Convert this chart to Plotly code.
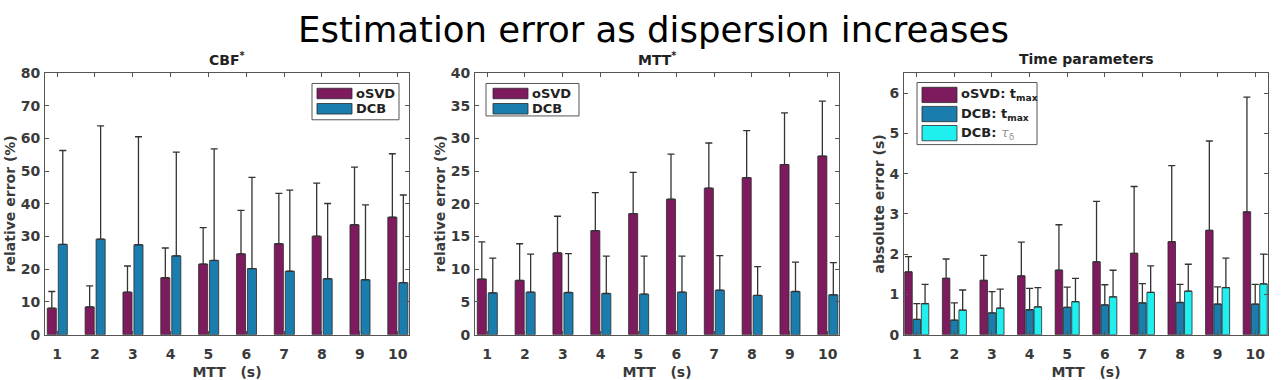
import plotly.graph_objects as go

W, H = 1285, 380

mtt = [1, 2, 3, 4, 5, 6, 7, 8, 9, 10]
tick_labels = [str(v) for v in mtt]

# CBF* relative error (%) : mean and upper deviation
cbf_osvd = [8.1, 8.5, 13.0, 17.4, 21.6, 24.7, 27.8, 30.1, 33.6, 35.9]
cbf_osvd_err = [5.1, 6.4, 8.0, 9.1, 11.1, 13.3, 15.4, 16.2, 17.6, 19.4]
cbf_dcb = [27.6, 29.2, 27.5, 24.1, 22.7, 20.2, 19.4, 17.1, 16.8, 15.9]
cbf_dcb_err = [28.7, 34.6, 33.0, 31.7, 34.1, 27.9, 24.8, 23.0, 22.9, 26.8]

# MTT* relative error (%)
mtt_osvd = [8.5, 8.3, 12.5, 15.9, 18.5, 20.7, 22.4, 24.0, 26.0, 27.3]
mtt_osvd_err = [5.7, 5.6, 5.6, 5.8, 6.3, 6.9, 6.9, 7.2, 7.9, 8.4]
mtt_dcb = [6.4, 6.5, 6.45, 6.3, 6.2, 6.5, 6.8, 6.0, 6.6, 6.1]
mtt_dcb_err = [5.3, 5.8, 5.95, 5.7, 5.8, 5.5, 5.3, 4.4, 4.5, 4.9]

# Time parameters absolute error (s)
t_osvd_tmax = [1.56, 1.40, 1.35, 1.46, 1.60, 1.81, 2.02, 2.31, 2.59, 3.05]
t_osvd_tmax_err = [0.38, 0.48, 0.62, 0.84, 1.13, 1.50, 1.66, 1.89, 2.22, 2.85]
t_dcb_tmax = [0.38, 0.36, 0.54, 0.62, 0.68, 0.74, 0.79, 0.80, 0.76, 0.76]
t_dcb_tmax_err = [0.39, 0.43, 0.53, 0.53, 0.50, 0.50, 0.48, 0.45, 0.43, 0.49]
t_dcb_tau = [0.77, 0.61, 0.66, 0.69, 0.82, 0.94, 1.05, 1.08, 1.17, 1.26]
t_dcb_tau_err = [0.48, 0.50, 0.47, 0.48, 0.58, 0.66, 0.66, 0.67, 0.73, 0.74]

PURPLE = "#7E1B5F"
BLUE = "#1A7DAE"
CYAN = "#20EFEF"
EDGE = "#2a2a2a"
ERRC = "#333333"
AXC = "#555555"
TXT = "#3a3a3a"
FONT = "DejaVu Sans"


def px(x):
    return x / W


def py(y):
    return 1 - y / H


fig = go.Figure()


def add_bar(vals, errs, color, xa, ya, offset, width):
    fig.add_trace(go.Bar(
        x=mtt, y=vals, xaxis=xa, yaxis=ya,
        offset=offset, width=width,
        marker=dict(color=color, line=dict(color=EDGE, width=0.8)),
        error_y=dict(type="data", symmetric=False, array=errs,
                     arrayminus=[0] * len(errs), color=ERRC,
                     thickness=1.3, width=3.5),
        showlegend=False,
    ))


add_bar(cbf_osvd, cbf_osvd_err, PURPLE, "x", "y", -0.26, 0.24)
add_bar(cbf_dcb, cbf_dcb_err, BLUE, "x", "y", 0.03, 0.24)
add_bar(mtt_osvd, mtt_osvd_err, PURPLE, "x2", "y2", -0.26, 0.24)
add_bar(mtt_dcb, mtt_dcb_err, BLUE, "x2", "y2", 0.03, 0.24)
add_bar(t_osvd_tmax, t_osvd_tmax_err, PURPLE, "x3", "y3", -0.32, 0.2)
add_bar(t_dcb_tmax, t_dcb_tmax_err, BLUE, "x3", "y3", -0.1, 0.2)
add_bar(t_dcb_tau, t_dcb_tau_err, CYAN, "x3", "y3", 0.12, 0.2)

ydom = [py(342), py(68)]
xdoms = [[px(45), px(409)], [px(475), px(839)], [px(904), px(1268)]]
xranges = [[0.68, 10.3], [0.68, 10.3], [0.66, 10.34]]
yranges = [[0, 80], [0, 40], [0, 6.5]]
ydt = [10, 5, 1]
ytitles = ["relative error (%)", "relative error (%)", "absolute error (s)"]

tickfont = dict(family=FONT, size=14, color=TXT, weight="bold")
titlefont = dict(family=FONT, size=14, color=TXT, weight="bold")
xtitlefont = dict(family=FONT, size=14, color=TXT, weight="bold")

layout = dict(
    width=W, height=H,
    margin=dict(l=0, r=0, t=0, b=0),
    paper_bgcolor="white", plot_bgcolor="white",
    barmode="overlay",
    showlegend=False,
)

for i in range(3):
    sx = "" if i == 0 else str(i + 1)
    layout["xaxis" + sx] = dict(
        domain=xdoms[i], range=xranges[i], anchor="y" + sx,
        tickmode="array", tickvals=mtt, ticktext=tick_labels,
        ticks="inside", ticklen=4, tickcolor=AXC, mirror="ticks",
        showline=True, linecolor=AXC, linewidth=1, showgrid=False,
        zeroline=False, tickfont=tickfont, ticklabelstandoff=6,
        title=dict(text="MTT\u00a0\u00a0\u00a0(s)", font=xtitlefont, standoff=9),
    )
    layout["yaxis" + sx] = dict(
        domain=ydom, range=yranges[i], anchor="x" + sx,
        dtick=ydt[i], tick0=0,
        ticks="inside", ticklen=4, tickcolor=AXC, mirror="ticks",
        showline=True, linecolor=AXC, linewidth=1, showgrid=False,
        zeroline=False, tickfont=tickfont, ticklabelstandoff=1,
        title=dict(text=ytitles[i], font=titlefont, standoff=1),
    )

fig.update_layout(**layout)

annotations = []
# main title
annotations.append(dict(
    text="Estimation error as dispersion increases", x=px(653), y=py(22),
    xref="paper", yref="paper", showarrow=False, xanchor="center",
    yanchor="middle", font=dict(family=FONT, size=35.5, color="black"),
))
# subplot titles
sub_titles = ["CBF<sup>*</sup>", "MTT<sup>*</sup>", "Time parameters"]
for i, t in enumerate(sub_titles):
    cx = (xdoms[i][0] + xdoms[i][1]) / 2
    annotations.append(dict(
        text=t, x=cx, y=py(53), xref="paper", yref="paper", showarrow=False,
        xanchor="center", yanchor="middle",
        font=dict(family=FONT, size=14, color="#222222", weight="bold"),
    ))

shapes = []
legfont = dict(family=FONT, size=13, color="#222222", weight="bold")


def legend(box, items):
    x0, y0, x1, y1 = box
    shapes.append(dict(type="rect", xref="paper", yref="paper",
                       x0=px(x0), x1=px(x1), y0=py(y1), y1=py(y0),
                       line=dict(color="#555555", width=1), fillcolor="white"))
    for (sx0, sx1, sy0, sy1, color, label) in items:
        shapes.append(dict(type="rect", xref="paper", yref="paper",
                           x0=px(sx0), x1=px(sx1), y0=py(sy1), y1=py(sy0),
                           line=dict(color=EDGE, width=0.8), fillcolor=color))
        annotations.append(dict(
            text=label, x=px(sx1 + 2), y=py((sy0 + sy1) / 2),
            xref="paper", yref="paper", showarrow=False,
            xanchor="left", yanchor="middle", font=legfont,
        ))


legend((312, 79, 399, 117), [
    (317, 352, 84, 95, PURPLE, "oSVD"),
    (317, 352, 100, 111, BLUE, "DCB"),
])
legend((486, 79, 579, 113), [
    (493, 528, 84, 95, PURPLE, "oSVD"),
    (493, 528, 100, 111, BLUE, "DCB"),
])
legend((917, 78, 1037, 143), [
    (922, 957, 83, 99, PURPLE, "oSVD: t<sub>max</sub>"),
    (922, 957, 103, 119, BLUE, "DCB: t<sub>max</sub>"),
    (922, 957, 123, 139, CYAN,
     "DCB: <span style='color:#9a9a9a;font-weight:normal'><i>τ</i><sub>δ</sub></span>"),
])

fig.update_layout(annotations=annotations, shapes=shapes)

fig.write_html("out.html")
